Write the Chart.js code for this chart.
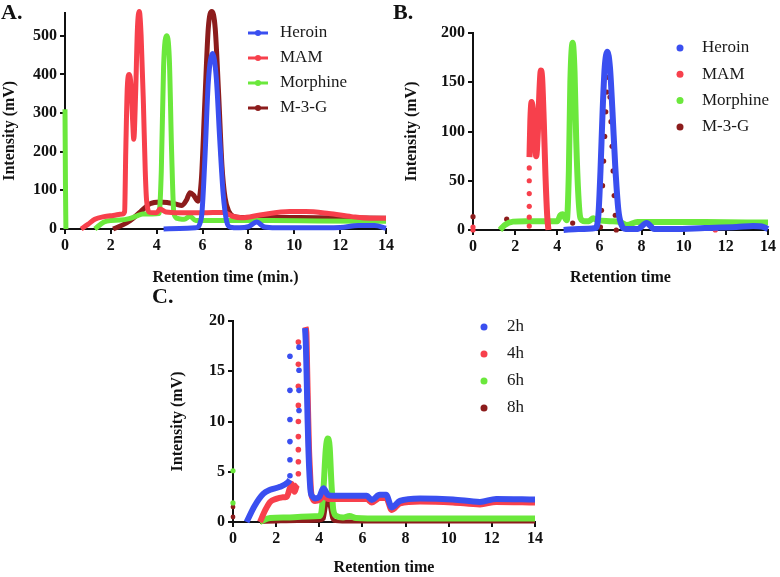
<!DOCTYPE html>
<html>
<head>
<meta charset="utf-8">
<script src="https://cdn.jsdelivr.net/npm/chart.js@4.4.1/dist/chart.umd.min.js"></script>
<style>
  body { margin: 0; background: #fff; width: 780px; height: 577px; position: relative; overflow: hidden; }
  .panel { position: absolute; }
  .tag { position: absolute; font: bold 22px 'Liberation Serif', serif; line-height: 22px; color: #111; }
</style>
</head>
<body>
<div class="panel" style="left:0;top:0"><canvas id="chartA" width="400" height="292"></canvas></div>
<div class="panel" style="left:390px;top:0"><canvas id="chartB" width="390" height="292"></canvas></div>
<div class="panel" style="left:150px;top:290px"><canvas id="chartC" width="400" height="287"></canvas></div>
<div class="tag" style="left:1px;top:1px">A.</div>
<div class="tag" style="left:393px;top:1px">B.</div>
<div class="tag" style="left:152px;top:285px">C.</div>
<script>
(() => {
  'use strict'
  // couleurs des séries
  const BLUE = '#3a4ff0', RED = '#f7404c', GREEN = '#6be83c', DARK = '#8c1c1c';

  // ---- Panneau A : standards (min.)
  const aHeroinX = [4.3, 5.0, 5.7, 5.95, 6.1, 6.25, 6.44, 6.6, 6.75, 6.9, 7.05, 7.2, 7.6, 8.0, 8.36, 8.7, 9.2, 10.5, 12.0, 12.8, 13.5, 14.0];
  const aHeroinY = [0, 1, 3, 30, 180, 380, 454, 390, 230, 90, 20, 5, 3, 6, 18, 5, 3, 3, 4, 9, 9, 2];
  const aMamX = [0.7, 1.0, 1.3, 1.7, 2.1, 2.5, 2.6, 2.65, 2.72, 2.8, 2.88, 2.95, 3.0, 3.08, 3.16, 3.24, 3.32, 3.42, 3.5, 3.56, 3.7, 4.0, 4.14, 4.4, 5.0, 6.0, 6.9, 7.3, 7.7, 8.5, 9.8, 10.5, 11.5, 12.5, 13.3, 14.0];
  const aMamY = [0, 12, 25, 32, 35, 39, 45, 200, 370, 400, 370, 280, 232, 350, 520, 563, 500, 324, 150, 73, 43, 42, 52, 44, 42, 42, 43, 33, 29, 36, 45, 45, 40, 32, 28, 28];
  const aMorphX = [0, 0.02, 0.04, 0.6, 1.3, 1.7, 2.0, 2.4, 2.8, 3.1, 3.4, 3.8, 4.1, 4.2, 4.3, 4.43, 4.55, 4.65, 4.75, 4.93, 5.2, 5.45, 5.7, 6.5, 7.5, 9.0, 11.0, 14.0];
  const aMorphY = [310, 115, 0, null, 0, 18, 22, 23, 27, 33, 39, 39, 40, 150, 420, 500, 440, 200, 40, 27, 25, 33, 22, 22, 22, 22, 21, 20];
  const aM3gX = [2.1, 2.5, 2.85, 3.3, 3.7, 4.14, 4.5, 4.8, 5.1, 5.3, 5.45, 5.6, 5.8, 5.95, 6.1, 6.25, 6.4, 6.55, 6.7, 6.85, 6.98, 7.15, 7.35, 7.8, 9.0, 11.0, 14.0];
  const aM3gY = [0, 10, 22, 45, 65, 70, 68, 65, 61, 75, 94, 88, 72, 130, 330, 520, 563, 520, 350, 160, 81, 45, 33, 30, 30, 29, 28];

  // ---- Panneau B
  const bHeroinX = [4.3, 5.0, 5.8, 5.95, 6.05, 6.15, 6.25, 6.38, 6.5, 6.62, 6.75, 6.9, 7.05, 7.25, 7.8, 8.24, 8.6, 9.5, 11.0, 12.5, 13.3, 13.8, 14.0];
  const bHeroinY = [0, 1, 2, 15, 60, 120, 165, 181, 165, 120, 65, 20, 5, 1, 1, 7, 1, 1, 2, 3, 4, 3, 1];
  const bMamX = [2.68, 2.72, 2.78, 2.85, 2.92, 3.0, 3.08, 3.15, 3.22, 3.28, 3.36, 3.44, 3.52, 3.58];
  const bMamY = [74, 110, 130, 120, 95, 75, 100, 140, 162, 155, 110, 55, 15, 0];
  const bMamDotX = [0, 0, 2.67, 2.67, 2.67, 2.67, 2.67, 2.67, 11.5];
  const bMamDotY = [0, 3, 4, 13, 24, 37, 50, 63, 0];
  const bMorphX = [1.28, 1.5, 1.9, 2.5, 3.5, 4.0, 4.15, 4.25, 4.45, 4.55, 4.62, 4.73, 4.82, 4.9, 5.0, 5.1, 5.3, 5.5, 5.71, 5.9, 6.5, 7.0, 7.3, 7.8, 9.0, 11.0, 14.0];
  const bMorphY = [0, 5, 8.5, 9, 9, 9, 15, 16, 10, 60, 150, 190, 160, 90, 35, 12, 9, 9, 12, 10, 9, 8, 5, 8, 8, 8, 7.5];
  const bM3gX = [0, 1.6, 4.73, 6.05, 6.1, 6.15, 6.2, 6.25, 6.3, 6.35, 6.42, 6.5, 6.55, 6.6, 6.65, 6.7, 6.75, 6.8];
  const bM3gY = [13.5, 11, 7, 3, 20, 45, 70, 95, 120, 140, 155, 135, 110, 85, 60, 35, 15, 0];

  // ---- Panneau C : 2h / 4h / 6h / 8h
  const c2hX = [0.63, 1.0, 1.4, 1.72, 2.18, 2.57, 2.64, 3.0, 3.34, 3.38, 3.42, 3.46, 3.5, 3.55, 3.6, 3.7, 3.8, 4.0, 4.19, 4.4, 4.65, 5.5, 6.2, 6.43, 6.8, 7.1, 7.36, 7.74, 8.67, 10.2, 11.45, 12.2, 14.0];
  const c2hY = [0, 1.6, 2.8, 3.2, 3.5, 4.0, 4.2, null, 19.3, 17.5, 14, 10, 7, 4.5, 3.0, 2.5, 2.35, 2.5, 3.35, 2.7, 2.6, 2.6, 2.6, 2.2, 2.7, 2.7, 1.45, 2.1, 2.35, 2.25, 2.0, 2.3, 2.25];
  const c2hDotX = [2.64, 2.64, 2.64, 2.64, 2.64, 2.64, 3.06, 3.06, 3.06, 3.06];
  const c2hDotY = [4.6, 6.2, 8.0, 10.2, 13.1, 16.5, 11.1, 13.1, 15.1, 17.4];
  const c4hX = [1.25, 1.5, 1.72, 2.0, 2.26, 2.49, 2.64, 2.72, 2.85, 2.95, 3.0, 3.2, 3.36, 3.4, 3.44, 3.48, 3.52, 3.57, 3.62, 3.7, 3.8, 4.0, 4.2, 4.4, 4.65, 5.5, 6.2, 6.43, 6.8, 7.1, 7.36, 7.74, 8.67, 10.2, 11.45, 12.2, 14.0];
  const c4hY = [0, 1.2, 2.0, 2.3, 2.45, 2.5, 3.4, 3.8, 3.0, 3.6, 3.7, null, 19.4, 18.9, 15, 11, 7.5, 5, 3, 2.3, 2.1, 2.2, 2.6, 2.3, 2.3, 2.3, 2.3, 1.95, 2.4, 2.4, 1.2, 1.85, 2.05, 1.95, 1.75, 2.0, 1.95];
  const c4hDotX = [3.03, 3.03, 3.03, 3.03, 3.03, 3.03, 3.03, 3.03, 3.03];
  const c4hDotY = [4.8, 6.0, 7.2, 8.5, 10.0, 11.6, 13.5, 15.7, 17.9];
  const c6hX = [1.25, 1.72, 2.5, 3.0, 3.5, 4.0, 4.1, 4.2, 4.3, 4.39, 4.48, 4.56, 4.65, 4.8, 5.1, 5.4, 5.7, 7.0, 9.0, 11.0, 14.0];
  const c6hY = [0, 0.4, 0.45, 0.5, 0.55, 0.6, 1.0, 3.5, 7.2, 8.3, 7.5, 4, 1.2, 0.6, 0.45, 0.6, 0.4, 0.35, 0.35, 0.35, 0.35];
  const c6hDotX = [0, 0];
  const c6hDotY = [5.1, 1.9];
  const c8hX = [1.25, 2.0, 3.0, 4.0, 4.2, 4.3, 4.4, 4.5, 4.6, 4.75, 5.5, 8.0, 14.0];
  const c8hY = [0, 0.05, 0.1, 0.15, 0.3, 1.5, 2.2, 1.5, 0.4, 0.1, 0.05, 0.05, 0.05];
  const c8hDotX = [0, 0];
  const c8hDotY = [1.5, 0.5];

  Chart.defaults.font.family = "'Liberation Serif', 'Times New Roman', serif";
  Chart.defaults.color = '#111';

  const pts = (xs, ys) => xs.map((x, i) => ({ x: x, y: ys[i] }));

  const lineSet = (label, color, xs, ys, w) => ({
    label: label, data: pts(xs, ys), showLine: true, spanGaps: false,
    borderColor: color, backgroundColor: color, borderWidth: w,
    pointRadius: 0, cubicInterpolationMode: 'monotone', clip: 10
  });
  const dotSet = (color, xs, ys, r) => ({
    data: pts(xs, ys), showLine: false, backgroundColor: color,
    borderColor: color, borderWidth: 0, pointRadius: r, clip: 10
  });

  // légende dessinée dans la zone du graphe
  const panelLegend = {
    id: 'panelLegend',
    afterDatasetsDraw(chart, args, o) {
      const ctx = chart.ctx;
      const items = chart.data.datasets.filter(d => d.label);
      ctx.save();
      ctx.font = "17px 'Liberation Serif', serif";
      ctx.textBaseline = 'middle';
      items.forEach((d, i) => {
        const y = o.y + i * o.gap;
        ctx.fillStyle = d.borderColor;
        ctx.strokeStyle = d.borderColor;
        if (o.line) {
          ctx.lineWidth = 3;
          ctx.beginPath(); ctx.moveTo(o.x - 10, y); ctx.lineTo(o.x + 10, y); ctx.stroke();
        }
        ctx.beginPath(); ctx.arc(o.x, y, o.r, 0, Math.PI * 2); ctx.fill();
        ctx.fillStyle = '#1a1a1a';
        ctx.fillText(d.label, o.textX, y);
      });
      ctx.restore();
    }
  };

  const createChart = (id, datasets, p) => {
    new Chart(document.getElementById(id), {
      type: 'scatter',
      data: { datasets: datasets },
      plugins: [panelLegend],
      options: {
        responsive: false,
        animation: false,
        layout: { padding: { left: 0, top: p.top, right: p.right, bottom: 0 } },
        plugins: { legend: { display: false }, tooltip: { enabled: false }, panelLegend: p.legend },
        scales: {
          x: {
            type: 'linear', min: 0, max: 14,
            afterFit: s => { s.height = p.xh; },
            border: { color: '#111', width: 2 },
            grid: { drawOnChartArea: false, drawTicks: true, tickLength: 5, color: '#111', lineWidth: 2 },
            ticks: { stepSize: 2, padding: 2, font: { size: 16, weight: 'bold' }, color: '#111' },
            title: { display: true, text: p.xTitle, font: { size: 16, weight: 'bold' }, color: '#111', padding: { top: 0, bottom: p.xTitlePad } }
          },
          y: {
            min: 0, max: p.yMax,
            afterFit: s => { s.width = p.yw; },
            afterBuildTicks: s => { s.ticks = s.ticks.filter(t => t.value % p.yStep === 0); },
            border: { color: '#111', width: 2 },
            grid: { drawOnChartArea: false, drawTicks: true, tickLength: 5, color: '#111', lineWidth: 2 },
            ticks: { stepSize: p.yStep, padding: 3, font: { size: 16, weight: 'bold' }, color: '#111' },
            title: { display: true, text: p.yTitle, font: { size: 16, weight: 'bold' }, color: '#111', padding: { top: p.yTitlePad, bottom: 0 } }
          }
        }
      }
    });
  };

  createChart('chartA', [
    lineSet('Heroin', BLUE, aHeroinX, aHeroinY, 5),
    lineSet('MAM', RED, aMamX, aMamY, 5),
    lineSet('Morphine', GREEN, aMorphX, aMorphY, 5),
    lineSet('M-3-G', DARK, aM3gX, aM3gY, 5)
  ], {
    top: 6, right: 14, xh: 63, yw: 65, yMax: 560, yStep: 100,
    xTitle: 'Retention time (min.)', xTitlePad: 5,
    yTitle: 'Intensity (mV)\u00a0\u00a0\u00a0\u00a0\u00a0', yTitlePad: 0,
    legend: { x: 258, textX: 280, y: 33, gap: 25, r: 3, line: true }
  });

  createChart('chartB', [
    lineSet('Heroin', BLUE, bHeroinX, bHeroinY, 6),
    lineSet('MAM', RED, bMamX, bMamY, 6),
    dotSet(RED, bMamDotX, bMamDotY, 2.6),
    lineSet('Morphine', GREEN, bMorphX, bMorphY, 6),
    Object.assign(dotSet(DARK, bM3gX, bM3gY, 2.6), { label: 'M-3-G' })
  ], {
    top: 33, right: 12, xh: 62, yw: 83, yMax: 200, yStep: 50,
    xTitle: 'Retention time', xTitlePad: 5,
    yTitle: 'Intensity (mV)', yTitlePad: 12,
    legend: { x: 290, textX: 312, y: 48, gap: 26.3, r: 3.5, line: false }
  });

  createChart('chartC', [
    lineSet('2h', BLUE, c2hX, c2hY, 6),
    dotSet(BLUE, c2hDotX, c2hDotY, 2.8),
    lineSet('4h', RED, c4hX, c4hY, 6),
    dotSet(RED, c4hDotX, c4hDotY, 2.8),
    lineSet('6h', GREEN, c6hX, c6hY, 6),
    dotSet(GREEN, c6hDotX, c6hDotY, 2.6),
    lineSet('8h', DARK, c8hX, c8hY, 4),
    dotSet(DARK, c8hDotX, c8hDotY, 2.4)
  ], {
    top: 31, right: 15, xh: 55, yw: 83, yMax: 20, yStep: 5,
    xTitle: 'Retention time', xTitlePad: 0,
    yTitle: 'Intensity (mV)', yTitlePad: 18,
    legend: { x: 334, textX: 357, y: 37, gap: 27, r: 3.5, line: false }
  });
})();
</script>
</body>
</html>
